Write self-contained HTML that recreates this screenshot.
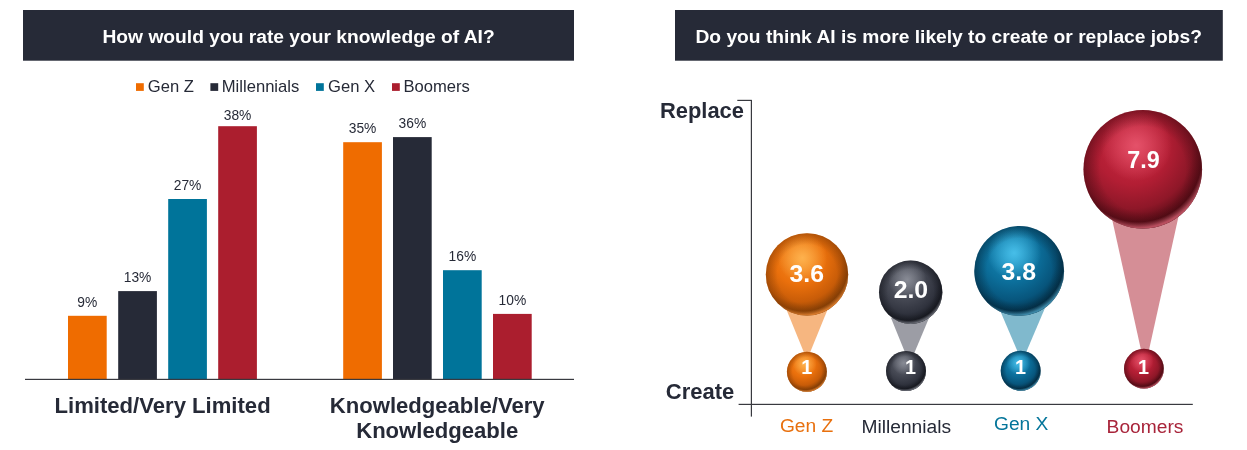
<!DOCTYPE html>
<html lang="en"><head><meta charset="utf-8"><title>AI survey charts</title>
<style>
html,body{margin:0;padding:0;background:#fff;}
body{width:1247px;height:450px;overflow:hidden;position:relative;font-family:"Liberation Sans",Arial,sans-serif;}
svg{position:absolute;left:0;top:0;display:block;}
text{font-family:"Liberation Sans",Arial,sans-serif;}
.b{font-weight:700;}
</style></head><body>
<svg width="1247" height="450" viewBox="0 0 1247 450">
<defs>
<radialGradient id="go" cx="0.41" cy="0.33" r="0.74">
<stop offset="0" stop-color="#f58a22"/><stop offset="0.4" stop-color="#ea700c"/><stop offset="0.68" stop-color="#c85c08"/><stop offset="0.9" stop-color="#7c3b05"/><stop offset="1" stop-color="#7c3b05"/></radialGradient>
<radialGradient id="ho" cx="0.445" cy="0.30" r="0.30">
<stop offset="0" stop-color="#ffb652" stop-opacity="0.9"/><stop offset="1" stop-color="#ffb652" stop-opacity="0"/></radialGradient>
<radialGradient id="so" cx="0.5" cy="0.5" r="0.5">
<stop offset="0.72" stop-color="#6a3003" stop-opacity="0"/><stop offset="1" stop-color="#6a3003" stop-opacity="0.4"/></radialGradient>
<radialGradient id="ro" cx="0.46" cy="0.41" r="0.6">
<stop offset="0.89" stop-color="#ee8a35" stop-opacity="0"/><stop offset="0.975" stop-color="#ee8a35" stop-opacity="0.8"/></radialGradient>
<radialGradient id="gd" cx="0.41" cy="0.33" r="0.74">
<stop offset="0" stop-color="#5c5f6a"/><stop offset="0.4" stop-color="#444752"/><stop offset="0.68" stop-color="#30333e"/><stop offset="0.9" stop-color="#15171e"/><stop offset="1" stop-color="#15171e"/></radialGradient>
<radialGradient id="hd" cx="0.445" cy="0.30" r="0.30">
<stop offset="0" stop-color="#8d909a" stop-opacity="0.9"/><stop offset="1" stop-color="#8d909a" stop-opacity="0"/></radialGradient>
<radialGradient id="sd" cx="0.5" cy="0.5" r="0.5">
<stop offset="0.72" stop-color="#0a0b10" stop-opacity="0"/><stop offset="1" stop-color="#0a0b10" stop-opacity="0.4"/></radialGradient>
<radialGradient id="rd" cx="0.46" cy="0.41" r="0.6">
<stop offset="0.89" stop-color="#80838d" stop-opacity="0"/><stop offset="0.975" stop-color="#80838d" stop-opacity="0.8"/></radialGradient>
<radialGradient id="gt" cx="0.41" cy="0.33" r="0.74">
<stop offset="0" stop-color="#1a8dbc"/><stop offset="0.4" stop-color="#0c6f9b"/><stop offset="0.68" stop-color="#07557c"/><stop offset="0.9" stop-color="#032a40"/><stop offset="1" stop-color="#032a40"/></radialGradient>
<radialGradient id="ht" cx="0.445" cy="0.30" r="0.30">
<stop offset="0" stop-color="#4cc4ee" stop-opacity="0.9"/><stop offset="1" stop-color="#4cc4ee" stop-opacity="0"/></radialGradient>
<radialGradient id="st" cx="0.5" cy="0.5" r="0.5">
<stop offset="0.72" stop-color="#021a28" stop-opacity="0"/><stop offset="1" stop-color="#021a28" stop-opacity="0.4"/></radialGradient>
<radialGradient id="rt" cx="0.46" cy="0.41" r="0.6">
<stop offset="0.89" stop-color="#4a9fc2" stop-opacity="0"/><stop offset="0.975" stop-color="#4a9fc2" stop-opacity="0.8"/></radialGradient>
<radialGradient id="gr" cx="0.41" cy="0.33" r="0.74">
<stop offset="0" stop-color="#c92a42"/><stop offset="0.4" stop-color="#b31e34"/><stop offset="0.68" stop-color="#8e1728"/><stop offset="0.9" stop-color="#4a0a12"/><stop offset="1" stop-color="#4a0a12"/></radialGradient>
<radialGradient id="hr" cx="0.445" cy="0.30" r="0.30">
<stop offset="0" stop-color="#e8566e" stop-opacity="0.9"/><stop offset="1" stop-color="#e8566e" stop-opacity="0"/></radialGradient>
<radialGradient id="sr" cx="0.5" cy="0.5" r="0.5">
<stop offset="0.72" stop-color="#30050b" stop-opacity="0"/><stop offset="1" stop-color="#30050b" stop-opacity="0.4"/></radialGradient>
<radialGradient id="rr" cx="0.46" cy="0.41" r="0.6">
<stop offset="0.89" stop-color="#d66072" stop-opacity="0"/><stop offset="0.975" stop-color="#d66072" stop-opacity="0.8"/></radialGradient>
</defs>
<rect x="23" y="10" width="551" height="50.7" fill="#262a37"/>
<rect x="675" y="10" width="547.8" height="50.7" fill="#262a37"/>
<text class="b" x="298.6" y="42.9" font-size="19.23" fill="#fff" text-anchor="middle">How would you rate your knowledge of AI?</text>
<text class="b" x="948.75" y="43" font-size="19.23" fill="#fff" text-anchor="middle">Do you think AI is more likely to create or replace jobs?</text>
<rect x="136" y="83.2" width="7.8" height="7.7" fill="#ef6c00"/>
<text x="147.8" y="91.8" font-size="16.6" fill="#262a37">Gen Z</text>
<rect x="210.4" y="83.2" width="7.8" height="7.7" fill="#262a37"/>
<text x="221.8" y="91.8" font-size="16.6" fill="#262a37">Millennials</text>
<rect x="316" y="83.2" width="7.8" height="7.7" fill="#00749a"/>
<text x="328" y="91.8" font-size="16.6" fill="#262a37">Gen X</text>
<rect x="392" y="83.2" width="7.8" height="7.7" fill="#ab1e2e"/>
<text x="403.5" y="91.8" font-size="16.6" fill="#262a37">Boomers</text>
<rect x="68" y="315.8" width="38.7" height="63.5" fill="#ef6c00"/>
<text x="87.35" y="307" font-size="13.8" fill="#262a37" text-anchor="middle">9%</text>
<rect x="118.2" y="291.1" width="38.7" height="88.2" fill="#262a37"/>
<text x="137.55" y="282.3" font-size="13.8" fill="#262a37" text-anchor="middle">13%</text>
<rect x="168.2" y="199" width="38.7" height="180.3" fill="#00749a"/>
<text x="187.55" y="190" font-size="13.8" fill="#262a37" text-anchor="middle">27%</text>
<rect x="218.2" y="126.2" width="38.7" height="253.1" fill="#ab1e2e"/>
<text x="237.55" y="120" font-size="13.8" fill="#262a37" text-anchor="middle">38%</text>
<rect x="343.2" y="142.2" width="38.7" height="237.1" fill="#ef6c00"/>
<text x="362.55" y="132.9" font-size="13.8" fill="#262a37" text-anchor="middle">35%</text>
<rect x="393" y="137.1" width="38.7" height="242.2" fill="#262a37"/>
<text x="412.35" y="128.4" font-size="13.8" fill="#262a37" text-anchor="middle">36%</text>
<rect x="443" y="270.2" width="38.7" height="109.1" fill="#00749a"/>
<text x="462.35" y="261.3" font-size="13.8" fill="#262a37" text-anchor="middle">16%</text>
<rect x="493" y="313.9" width="38.7" height="65.4" fill="#ab1e2e"/>
<text x="512.35" y="305" font-size="13.8" fill="#262a37" text-anchor="middle">10%</text>
<rect x="25" y="378.8" width="549" height="1.2" fill="#38393f"/>
<text class="b" x="162.6" y="413" font-size="22.1" fill="#262a37" text-anchor="middle">Limited/Very Limited</text>
<text class="b" x="437.2" y="413" font-size="22.1" fill="#262a37" text-anchor="middle">Knowledgeable/Very</text>
<text class="b" x="437.2" y="437.8" font-size="22.1" fill="#262a37" text-anchor="middle">Knowledgeable</text>
<rect x="750.8" y="100" width="1.2" height="316.6" fill="#38393f"/>
<rect x="737.3" y="99.8" width="14.5" height="1.2" fill="#38393f"/>
<rect x="738.6" y="403.8" width="454.2" height="1.2" fill="#38393f"/>
<text class="b" x="660" y="118.4" font-size="21.9" fill="#262a37">Replace</text>
<text class="b" x="665.8" y="398.8" font-size="22" fill="#262a37">Create</text>
<text x="779.9" y="431.6" font-size="19.2" fill="#e8700e">Gen Z</text>
<text x="861.5" y="432.7" font-size="19.2" fill="#262a37">Millennials</text>
<text x="994" y="429.8" font-size="19.2" fill="#04759a">Gen X</text>
<text x="1106.6" y="432.8" font-size="19.2" fill="#a8243a">Boomers</text>
<polygon points="785.8,308 828.2,308 807,360" fill="#f6b680"/>
<polygon points="891,318 929,318 909.7,364" fill="#9c9da5"/>
<polygon points="999,308 1045,308 1022,362" fill="#80b9cd"/>
<polygon points="1110.5,212 1179.5,212 1145,368" fill="#d58e96"/>
<circle cx="807" cy="274.4" r="41.2" fill="url(#go)"/>
<circle cx="807" cy="274.4" r="41.2" fill="url(#ho)"/>
<circle cx="807" cy="274.4" r="41.2" fill="url(#so)"/>
<circle cx="807" cy="274.4" r="41.2" fill="url(#ro)"/>
<text class="b" x="806.7" y="281.5" font-size="24.8" fill="#fff" text-anchor="middle">3.6</text>
<circle cx="806.9" cy="371.8" r="20" fill="url(#go)"/>
<circle cx="806.9" cy="371.8" r="20" fill="url(#ho)"/>
<circle cx="806.9" cy="371.8" r="20" fill="url(#so)"/>
<circle cx="806.9" cy="371.8" r="20" fill="url(#ro)"/>
<text class="b" x="806.8" y="373.9" font-size="19.8" fill="#fff" text-anchor="middle">1</text>
<circle cx="910.7" cy="292.2" r="31.7" fill="url(#gd)"/>
<circle cx="910.7" cy="292.2" r="31.7" fill="url(#hd)"/>
<circle cx="910.7" cy="292.2" r="31.7" fill="url(#sd)"/>
<circle cx="910.7" cy="292.2" r="31.7" fill="url(#rd)"/>
<text class="b" x="910.9" y="298.4" font-size="24.8" fill="#fff" text-anchor="middle">2.0</text>
<circle cx="906" cy="371" r="20" fill="url(#gd)"/>
<circle cx="906" cy="371" r="20" fill="url(#hd)"/>
<circle cx="906" cy="371" r="20" fill="url(#sd)"/>
<circle cx="906" cy="371" r="20" fill="url(#rd)"/>
<text class="b" x="910.4" y="373.9" font-size="19.8" fill="#fff" text-anchor="middle">1</text>
<circle cx="1019.2" cy="270.9" r="44.9" fill="url(#gt)"/>
<circle cx="1019.2" cy="270.9" r="44.9" fill="url(#ht)"/>
<circle cx="1019.2" cy="270.9" r="44.9" fill="url(#st)"/>
<circle cx="1019.2" cy="270.9" r="44.9" fill="url(#rt)"/>
<text class="b" x="1018.8" y="279.8" font-size="24.8" fill="#fff" text-anchor="middle">3.8</text>
<circle cx="1020.7" cy="370.8" r="20" fill="url(#gt)"/>
<circle cx="1020.7" cy="370.8" r="20" fill="url(#ht)"/>
<circle cx="1020.7" cy="370.8" r="20" fill="url(#st)"/>
<circle cx="1020.7" cy="370.8" r="20" fill="url(#rt)"/>
<text class="b" x="1020.6" y="373.9" font-size="19.8" fill="#fff" text-anchor="middle">1</text>
<circle cx="1142.8" cy="169.2" r="59.3" fill="url(#gr)"/>
<circle cx="1142.8" cy="169.2" r="59.3" fill="url(#hr)"/>
<circle cx="1142.8" cy="169.2" r="59.3" fill="url(#sr)"/>
<circle cx="1142.8" cy="169.2" r="59.3" fill="url(#rr)"/>
<text class="b" x="1143.5" y="168.2" font-size="23.3" fill="#fff" text-anchor="middle">7.9</text>
<circle cx="1143.9" cy="368.7" r="19.9" fill="url(#gr)"/>
<circle cx="1143.9" cy="368.7" r="19.9" fill="url(#hr)"/>
<circle cx="1143.9" cy="368.7" r="19.9" fill="url(#sr)"/>
<circle cx="1143.9" cy="368.7" r="19.9" fill="url(#rr)"/>
<text class="b" x="1143.6" y="374" font-size="19.8" fill="#fff" text-anchor="middle">1</text>
</svg>
</body></html>
